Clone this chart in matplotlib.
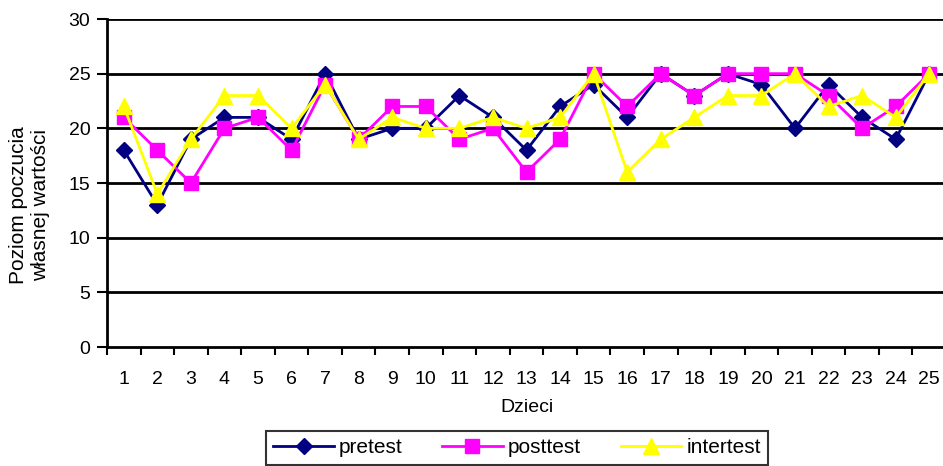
import matplotlib
matplotlib.use("Agg")
import matplotlib.pyplot as plt
import numpy as np

plt.rcParams['font.family'] = ['Liberation Sans', 'DejaVu Sans']

children = [str(i) for i in range(1, 26)]
pretest = [18, 13, 19, 21, 21, 19, 25, 19, 20, 20, 23, 21, 18, 22, 24, 21, 25, 23, 25, 24, 20, 24, 21, 19, 25]
posttest = [21, 18, 15, 20, 21, 18, 24, 19, 22, 22, 19, 20, 16, 19, 25, 22, 25, 23, 25, 25, 25, 23, 20, 22, 25]
intertest = [22, 14, 19, 23, 23, 20, 24, 19, 21, 20, 20, 21, 20, 21, 25, 16, 19, 21, 23, 23, 25, 22, 23, 21, 25]
yticks = [0, 5, 10, 15, 20, 25, 30]

fig = plt.figure(figsize=(9.43, 4.66), dpi=100)
ax = fig.add_axes([107/943, 1-347/466, 839/943, 328/466])

x = np.arange(len(children))
ax.plot(x, pretest, color='#000080', marker='D', markersize=8, lw=2, label='pretest', zorder=3)
ax.plot(x, posttest, color='#FF00FF', marker='s', markersize=10, lw=2, label='posttest', zorder=4)
ax.plot(x, intertest, color='#FFFF00', marker='^', markersize=11, lw=2, label='intertest', zorder=5)

ax.set_xlim(-0.5, len(children) - 0.5)
ax.set_ylim(0, 30)
ax.set_yticks(yticks)
ax.set_yticklabels([str(v) for v in yticks], fontsize=14)
for v in yticks[1:]:
    ax.axhline(v, color='black', lw=2, zorder=1)
ax.set_xticks(x)
ax.set_xticklabels(children, fontsize=14)
ax.set_xticks(np.arange(len(children) + 1) - 0.5, minor=True)
ax.tick_params(axis='x', which='major', length=0, pad=17)
ax.tick_params(axis='x', which='minor', length=6, width=1.5, direction='out')
ax.tick_params(axis='y', length=7, width=1.5, direction='out', pad=5)
for s in ['top', 'right']:
    ax.spines[s].set_visible(False)
ax.spines['left'].set_linewidth(2)
ax.spines['bottom'].set_linewidth(2)

ax.set_xlabel('Dzieci', fontsize=14, labelpad=8)
fig.text(30/943, 1-205/466, 'Poziom poczucia\nwłasnej wartości', fontsize=15, rotation=90,
         ha='center', va='center', multialignment='center', linespacing=1.2)

leg = fig.legend(loc='upper center', bbox_to_anchor=(517/943, 1-431/466), ncol=3, fontsize=15,
                 frameon=True, fancybox=False, edgecolor='black', handlelength=2.9,
                 handletextpad=0.25, columnspacing=1.9, borderpad=0.35, borderaxespad=0)
leg.get_frame().set_linewidth(1.5)

fig.savefig('out.png', dpi=100)
